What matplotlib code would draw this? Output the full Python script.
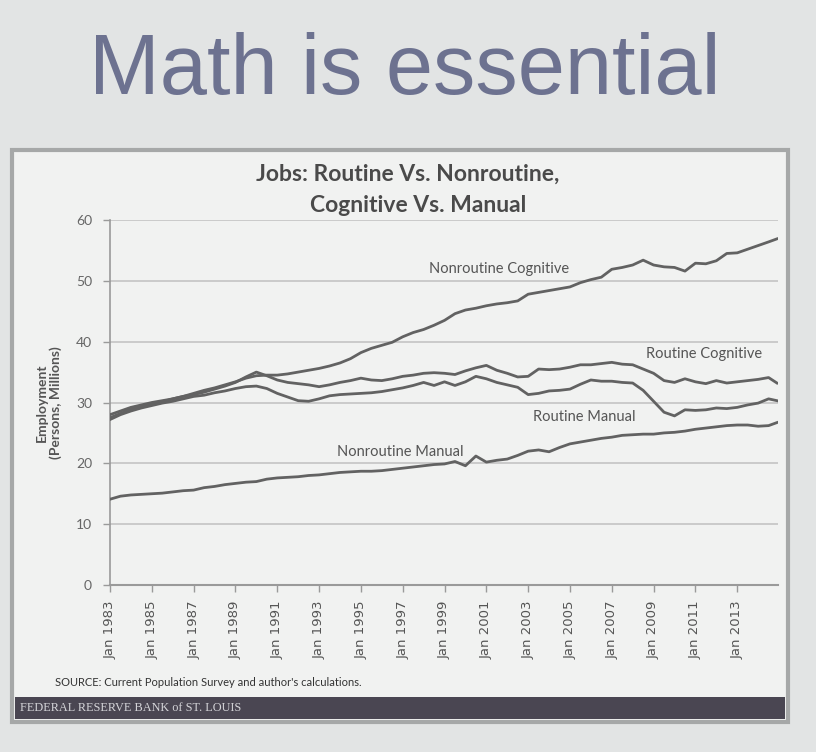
import numpy as np
import matplotlib
matplotlib.use("Agg")
import matplotlib.pyplot as plt
from matplotlib.patches import Rectangle

# half-year grid, last point is the late-2014 observation
years = np.append(np.arange(1983.0, 2014.75, 0.5), 2014.9)

nonroutine_cognitive = [
    27.5, 28.2, 28.9, 29.3, 29.8, 30.1, 30.6, 31.0, 31.5, 32.0,
    32.4, 32.9, 33.4, 34.0, 34.4, 34.5, 34.5, 34.7, 35.0, 35.3,
    35.6, 36.0, 36.5, 37.2, 38.2, 38.9, 39.4, 39.9, 40.8, 41.5,
    42.0, 42.7, 43.5, 44.6, 45.2, 45.5, 45.9, 46.2, 46.4, 46.7,
    47.8, 48.1, 48.4, 48.7, 49.0, 49.7, 50.2, 50.6, 51.9, 52.2,
    52.6, 53.4, 52.6, 52.3, 52.2, 51.6, 52.9, 52.8, 53.3, 54.5,
    54.6, 55.2, 55.8, 56.4, 56.9,
]
routine_cognitive = [
    28.0, 28.6, 29.2, 29.6, 30.0, 30.3, 30.6, 31.0, 31.3, 31.7,
    32.2, 32.7, 33.3, 34.2, 35.0, 34.4, 33.7, 33.3, 33.1, 32.9,
    32.6, 32.9, 33.3, 33.6, 34.0, 33.7, 33.6, 33.9, 34.3, 34.5,
    34.8, 34.9, 34.8, 34.6, 35.2, 35.7, 36.1, 35.3, 34.8, 34.2,
    34.3, 35.5, 35.4, 35.5, 35.8, 36.2, 36.2, 36.4, 36.6, 36.3,
    36.2, 35.5, 34.8, 33.6, 33.3, 33.9, 33.4, 33.1, 33.6, 33.2,
    33.4, 33.6, 33.8, 34.1, 33.2,
]
routine_manual = [
    27.2, 28.0, 28.6, 29.1, 29.5, 29.9, 30.2, 30.6, 31.0, 31.2,
    31.6, 31.9, 32.3, 32.6, 32.7, 32.3, 31.5, 30.9, 30.3, 30.2,
    30.6, 31.1, 31.3, 31.4, 31.5, 31.6, 31.8, 32.1, 32.4, 32.8,
    33.3, 32.8, 33.4, 32.8, 33.4, 34.3, 33.9, 33.3, 32.9, 32.5,
    31.3, 31.5, 31.9, 32.0, 32.2, 33.0, 33.7, 33.5, 33.5, 33.3,
    33.2, 32.0, 30.2, 28.4, 27.8, 28.8, 28.7, 28.8, 29.1, 29.0,
    29.2, 29.6, 29.9, 30.6, 30.3,
]
nonroutine_manual = [
    14.1, 14.6, 14.8, 14.9, 15.0, 15.1, 15.3, 15.5, 15.6, 16.0,
    16.2, 16.5, 16.7, 16.9, 17.0, 17.4, 17.6, 17.7, 17.8, 18.0,
    18.1, 18.3, 18.5, 18.6, 18.7, 18.7, 18.8, 19.0, 19.2, 19.4,
    19.6, 19.8, 19.9, 20.3, 19.6, 21.2, 20.2, 20.5, 20.7, 21.3,
    22.0, 22.2, 21.9, 22.6, 23.2, 23.5, 23.8, 24.1, 24.3, 24.6,
    24.7, 24.8, 24.8, 25.0, 25.1, 25.3, 25.6, 25.8, 26.0, 26.2,
    26.3, 26.3, 26.1, 26.2, 26.7,
]

series_labels = ["Nonroutine Cognitive", "Routine Cognitive", "Routine Manual", "Nonroutine Manual"]
label_pos = [(2001.6, 52.0), (2011.4, 38.0), (2005.7, 27.6), (1996.9, 21.8)]

tick_years = list(range(1983, 2014, 2))
tick_labels = [f"Jan {y}" for y in tick_years]
y_ticks = [0, 10, 20, 30, 40, 50, 60]

LINE = "#626262"
GRID = "#c4c4c4"

fig = plt.figure(figsize=(8.16, 7.52), dpi=100)
fig.patch.set_facecolor("#e2e4e4")

W, H = 816.0, 752.0


def fx(px):
    return px / W


def fy(py):
    return 1 - py / H


# slide title
fig.text(fx(405), fy(72), "Math is essential", ha="center", va="center",
         fontsize=61, family="Liberation Sans", color="#6d7290")

# chart panel
fig.patches.append(Rectangle((fx(12), fy(722)), fx(776), (722 - 150) / H,
                             transform=fig.transFigure, facecolor="#f1f2f1",
                             edgecolor="#a6a8a8", linewidth=3, zorder=0))
fig.patches.append(Rectangle((fx(15), fy(719)), fx(770), 22 / H,
                             transform=fig.transFigure, facecolor="#4a4652",
                             edgecolor="none", zorder=1))
fig.text(fx(20), fy(708), "FEDERAL RESERVE BANK of ST. LOUIS", ha="left", va="center",
         fontsize=8.8, family="Liberation Serif", color="#d4d4d8")

fig.text(fx(408), fy(174), "Jobs: Routine Vs. Nonroutine,", ha="center", va="center",
         fontsize=16.5, family="Lato", weight="bold", color="#4a4a4a")
fig.text(fx(418), fy(206), "Cognitive Vs. Manual", ha="center", va="center",
         fontsize=16.5, family="Lato", weight="bold", color="#4a4a4a")

fig.text(fx(55), fy(683), "SOURCE: Current Population Survey and author's calculations.",
         ha="left", va="center", fontsize=8, family="Lato", color="#333333")

ax = fig.add_axes([fx(110), fy(585), fx(778 - 110), (585 - 220) / H])
ax.set_zorder(5)
ax.set_facecolor("none")

for vals in [nonroutine_cognitive, routine_cognitive, routine_manual, nonroutine_manual]:
    ax.plot(years, vals, color=LINE, linewidth=2.0, solid_joinstyle="round", zorder=3)

for name, (lx, ly) in zip(series_labels, label_pos):
    ax.text(lx, ly, name, ha="center", va="center", fontsize=10.5,
            family="Lato", color="#555555")

ax.set_xlim(1983, 2014.95)
ax.set_ylim(0, 60)
ax.set_yticks(y_ticks)
ax.set_yticklabels([str(v) for v in y_ticks], family="Lato", fontsize=10, color="#666666")
ax.set_xticks(tick_years)
ax.set_xticklabels(tick_labels, rotation=90, family="DejaVu Sans", fontsize=9.5, color="#555555")

ax.yaxis.grid(True, color=GRID, linewidth=1.2)
ax.set_axisbelow(True)
for side in ["top", "right"]:
    ax.spines[side].set_visible(False)
ax.spines["left"].set_color("#9a9a9a")
ax.spines["bottom"].set_color("#9a9a9a")
ax.spines["left"].set_linewidth(1.2)
ax.spines["bottom"].set_linewidth(1.5)
ax.tick_params(axis="both", colors="#9a9a9a", length=5, width=1)
ax.tick_params(axis="y", pad=8, labelcolor="#666666")
ax.tick_params(axis="x", pad=6, labelcolor="#555555")

ax.set_ylabel("Employment\n(Persons, Millions)", family="Lato", weight="bold",
              fontsize=10, color="#555555", labelpad=10, linespacing=1.15)

fig.savefig("out.png", dpi=100, facecolor=fig.get_facecolor())
